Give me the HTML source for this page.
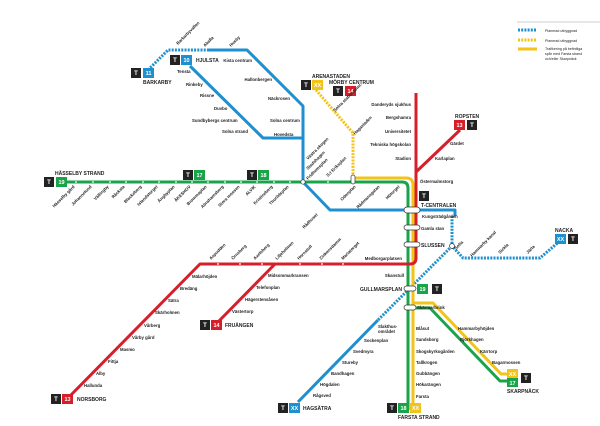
<!DOCTYPE html>
<html><head><meta charset="utf-8"><style>
html,body{margin:0;padding:0;background:#fff;}
svg{display:block;font-family:"Liberation Sans",sans-serif;}
text{font-size:4.3px;fill:#222;font-weight:bold;}
.b{font-size:5px;}
.r{text-anchor:end;}
.bt{fill:#fff;font-size:5.5px;text-anchor:middle;}
</style></head><body>
<svg width="600" height="426" viewBox="0 0 600 426" xmlns="http://www.w3.org/2000/svg">
<defs>
<g id="T"><rect x="-5" y="-5" width="10" height="10" fill="#222"/><text x="0" y="2" class="bt" style="font-size:6px">T</text></g>
</defs>
<g fill="none" stroke-linejoin="round" stroke-linecap="butt">
<path d="M148,70 L168,50 L207,50" stroke="#1e8fcf" stroke-width="3" stroke-dasharray="2,1.2"/>
<path d="M207,50 L247,50 L303,106 L303,182 L330,210 L455,210 L455,216" stroke="#1e8fcf" stroke-width="3"/>
<path d="M190,66 L263,138 L303,138" stroke="#1e8fcf" stroke-width="3"/>
<path d="M452,216 L452,246 L463,258 L540,258 L561,240" stroke="#1e8fcf" stroke-width="3" stroke-dasharray="2,1.2"/>
<path d="M452,246 L378,320" stroke="#1e8fcf" stroke-width="3" stroke-dasharray="2,1.2"/>
<path d="M378,320 L298,402" stroke="#1e8fcf" stroke-width="3"/>
<path d="M62,182 L402,182 Q408,182 408,188 L408,410" stroke="#1aa44a" stroke-width="3"/>
<path d="M408,308 L430,308 L500,381 L512,381" stroke="#1aa44a" stroke-width="3"/>
<path d="M316,90 L353,133 L353,178" stroke="#f2c318" stroke-width="3" stroke-dasharray="2,1.2"/>
<path d="M353,178 L406,178 Q413,178 413,185 L413,410" stroke="#f2c318" stroke-width="3"/>
<path d="M413,303 L433,303 L501,374 L512,374" stroke="#f2c318" stroke-width="3"/>
<path d="M416,93 L416,258 Q416,264 410,264 L200,264 L68,398" stroke="#d71f2b" stroke-width="3"/>
<path d="M275,264 L218,322" stroke="#d71f2b" stroke-width="3"/>
<path d="M460,130 L416,172" stroke="#d71f2b" stroke-width="3"/>
</g>
<g fill="#fff" stroke="#333" stroke-width="0.7">
<rect x="404" y="207" width="16" height="6" rx="3"/>
<rect x="404" y="225" width="16" height="5" rx="2.5"/>
<rect x="404" y="242" width="16" height="5" rx="2.5"/>
<rect x="404" y="286" width="12" height="5" rx="2.5"/>
<rect x="404" y="305" width="12" height="5" rx="2.5"/>
<rect x="351" y="175" width="4" height="9" rx="2"/>
<circle cx="303" cy="182" r="2.2"/>
<circle cx="452" cy="246" r="2.5"/>
</g>
<g fill="#fff">
<circle cx="76" cy="182" r="0.9"/><circle cx="93" cy="182" r="0.9"/><circle cx="110" cy="182" r="0.9"/><circle cx="126" cy="182" r="0.9"/><circle cx="143" cy="182" r="0.9"/><circle cx="159" cy="182" r="0.9"/><circle cx="176" cy="182" r="0.9"/><circle cx="192" cy="182" r="0.9"/><circle cx="208" cy="182" r="0.9"/><circle cx="225" cy="182" r="0.9"/><circle cx="241" cy="182" r="0.9"/><circle cx="257" cy="182" r="0.9"/><circle cx="274" cy="182" r="0.9"/><circle cx="290" cy="182" r="0.9"/><circle cx="328" cy="182" r="0.9"/>
<circle cx="218" cy="264" r="0.9"/><circle cx="240" cy="264" r="0.9"/><circle cx="262" cy="264" r="0.9"/><circle cx="300" cy="264" r="0.9"/><circle cx="322" cy="264" r="0.9"/><circle cx="343" cy="264" r="0.9"/>
</g>
<line x1="517" y1="22" x2="600" y2="22" stroke="#999" stroke-width="0.6"/>
<line x1="518" y1="30" x2="537" y2="30" stroke="#1e8fcf" stroke-width="3" stroke-dasharray="2,1.2"/>
<line x1="518" y1="40" x2="537" y2="40" stroke="#f2c318" stroke-width="3" stroke-dasharray="2,1.2"/>
<line x1="518" y1="49" x2="537" y2="49" stroke="#f2c318" stroke-width="3"/>
<g><text x="545" y="32" style="font-weight:normal;font-size:3.6px">Planerad utbyggnad</text>
<text x="545" y="42" style="font-weight:normal;font-size:3.6px">Planerad utbyggnad</text>
<text x="545" y="50" style="font-weight:normal;font-size:3.6px">Trafikering på befintliga</text>
<text x="545" y="55" style="font-weight:normal;font-size:3.6px">spår med Farsta strand</text>
<text x="545" y="60" style="font-weight:normal;font-size:3.6px">och/eller Skarpnäck</text></g>
<use href="#T" x="136" y="73"/><rect x="143" y="68" width="11" height="10" fill="#1e8fcf"/><text x="148.5" y="75" class="bt">11</text><text x="143" y="84" class="b">BARKARBY</text>
<use href="#T" x="175" y="60"/><rect x="181" y="55" width="11" height="10" fill="#1e8fcf"/><text x="186.5" y="62" class="bt">10</text><text x="196" y="62" class="b">HJULSTA</text>
<use href="#T" x="49" y="182"/><rect x="56" y="177" width="11" height="10" fill="#1aa44a"/><text x="61.5" y="184" class="bt">19</text><text x="55" y="175" class="b">HÄSSELBY STRAND</text>
<use href="#T" x="188" y="175"/><rect x="194" y="170" width="11" height="10" fill="#1aa44a"/><text x="199.5" y="177" class="bt">17</text>
<use href="#T" x="252" y="175"/><rect x="258" y="170" width="11" height="10" fill="#1aa44a"/><text x="263.5" y="177" class="bt">18</text>
<use href="#T" x="306" y="85"/><rect x="312" y="80" width="11" height="10" fill="#f2c318"/><text x="317.5" y="87" class="bt">XX</text><text x="312" y="78" class="b">ARENASTADEN</text>
<use href="#T" x="338" y="91"/><rect x="345" y="86" width="11" height="10" fill="#d71f2b"/><text x="350.5" y="93" class="bt">14</text><text x="329" y="84" class="b">MÖRBY CENTRUM</text>
<rect x="454" y="120" width="11" height="10" fill="#d71f2b"/><text x="459.5" y="127" class="bt">13</text><use href="#T" x="472" y="125"/><text x="455" y="118" class="b">ROPSTEN</text>
<use href="#T" x="424" y="196"/><text x="421" y="207" class="b">T-CENTRALEN</text>
<rect x="417" y="284" width="11" height="10" fill="#1aa44a"/><text x="422.5" y="291" class="bt">19</text><use href="#T" x="437" y="289"/><text x="402" y="291" class="b r">GULLMARSPLAN</text>
<use href="#T" x="392" y="408"/><rect x="398" y="403" width="11" height="10" fill="#1aa44a"/><text x="403.5" y="410" class="bt">18</text><rect x="410" y="403" width="11" height="10" fill="#f2c318"/><text x="415.5" y="410" class="bt">XX</text><text x="398" y="419" class="b">FARSTA STRAND</text>
<rect x="507" y="369" width="11" height="9" fill="#f2c318"/><text x="512.5" y="376" class="bt">XX</text><rect x="507" y="378" width="11" height="9" fill="#1aa44a"/><text x="512.5" y="385" class="bt">17</text><use href="#T" x="526" y="378"/><text x="507" y="393" class="b">SKARPNÄCK</text>
<rect x="555" y="234" width="11" height="10" fill="#1e8fcf"/><text x="560.5" y="241" class="bt">XX</text><use href="#T" x="573" y="239"/><text x="555" y="232" class="b">NACKA</text>
<use href="#T" x="283" y="408"/><rect x="289" y="403" width="11" height="10" fill="#1e8fcf"/><text x="294.5" y="410" class="bt">XX</text><text x="303" y="410" class="b">HAGSÄTRA</text>
<use href="#T" x="56" y="399"/><rect x="62" y="394" width="11" height="10" fill="#d71f2b"/><text x="67.5" y="401" class="bt">13</text><text x="77" y="401" class="b">NORSBORG</text>
<use href="#T" x="205" y="325"/><rect x="211" y="320" width="11" height="10" fill="#d71f2b"/><text x="216.5" y="327" class="bt">14</text><text x="225" y="327" class="b">FRUÄNGEN</text>
<text x="421" y="230">Gamla stan</text><text x="421" y="247" class="b">SLUSSEN</text>
<text x="252" y="62" class="r">Kista centrum</text><text x="272" y="81" class="r">Hallonbergen</text><text x="290" y="100" class="r">Näckrosen</text><text x="270" y="122">Solna centrum</text><text x="274" y="136">Hovedsta</text>
<text x="177" y="73">Tensta</text><text x="186" y="86">Rinkeby</text><text x="200" y="97">Rissne</text><text x="214" y="110">Duvbo</text><text x="192" y="122">Sundbybergs centrum</text><text x="222" y="133">Solna strand</text>
<text x="422" y="218">Kungsträdgården</text>
<text x="411" y="106" class="r">Danderyds sjukhus</text><text x="411" y="119" class="r">Bergshamra</text><text x="411" y="133" class="r">Universitetet</text><text x="411" y="146" class="r">Tekniska högskolan</text><text x="411" y="160" class="r">Stadion</text><text x="420" y="183">Östermalmstorg</text>
<text x="450" y="145">Gärdet</text><text x="435" y="160">Karlaplan</text>
<text x="402" y="260" class="r">Medborgarplatsen</text><text x="404" y="277" class="r">Skanstull</text>
<text x="192" y="278">Mälarhöjden</text><text x="180" y="290">Bredäng</text><text x="168" y="302">Sätra</text><text x="155" y="314">Skärholmen</text><text x="144" y="327">Vårberg</text><text x="132" y="339">Vårby gård</text><text x="120" y="351">Masmo</text><text x="108" y="363">Fittja</text><text x="96" y="375">Alby</text><text x="84" y="387">Hallunda</text>
<text x="268" y="277">Midsommarkransen</text><text x="256" y="289">Telefonplan</text><text x="245" y="301">Hägerstensåsen</text><text x="232" y="313">Västertorp</text>
<text x="417" y="309">Skärmarbrink</text><text x="416" y="330">Blåsut</text><text x="416" y="341">Sandsborg</text><text x="416" y="353">Skogskyrkogården</text><text x="416" y="364">Tallkrogen</text><text x="416" y="375">Gubbängen</text><text x="416" y="386">Hökarängen</text><text x="416" y="398">Farsta</text>
<text x="458" y="330">Hammarbyhöjden</text><text x="460" y="341">Björkhagen</text><text x="480" y="353">Kärrtorp</text><text x="492" y="364">Bagarmossen</text>
<text x="378" y="328">Slakthus-</text><text x="378" y="333">området</text><text x="364" y="342">Sockenplan</text><text x="353" y="353">Svedmyra</text><text x="342" y="364">Stureby</text><text x="331" y="375">Bandhagen</text><text x="320" y="386">Högdalen</text><text x="313" y="397">Rågsved</text>
<g>
<text transform="translate(75,187) rotate(-45)" class="r">Hässelby gård</text>
<text transform="translate(92,187) rotate(-45)" class="r">Johannelund</text>
<text transform="translate(109,187) rotate(-45)" class="r">Vällingby</text>
<text transform="translate(125,187) rotate(-45)" class="r">Råcksta</text>
<text transform="translate(142,187) rotate(-45)" class="r">Blackeberg</text>
<text transform="translate(158,187) rotate(-45)" class="r">Islandstorget</text>
<text transform="translate(175,187) rotate(-45)" class="r">Ängbyplan</text>
<text transform="translate(191,187) rotate(-45)" class="r">ÅKESHOV</text>
<text transform="translate(207,187) rotate(-45)" class="r">Brommaplan</text>
<text transform="translate(224,187) rotate(-45)" class="r">Abrahamsberg</text>
<text transform="translate(240,187) rotate(-45)" class="r">Stora mossen</text>
<text transform="translate(256,187) rotate(-45)" class="r">ALVIK</text>
<text transform="translate(273,187) rotate(-45)" class="r">Kristineberg</text>
<text transform="translate(289,187) rotate(-45)" class="r">Thorildsplan</text>
<text transform="translate(318,215) rotate(-45)" class="r">Rådhuset</text>
<text transform="translate(356,187) rotate(-45)" class="r">Odenplan</text>
<text transform="translate(380,187) rotate(-45)" class="r">Rådmansgatan</text>
<text transform="translate(400,187) rotate(-45)" class="r">Hötorget</text>
<text transform="translate(308,160) rotate(-45)">Västra skogen</text>
<text transform="translate(308,170) rotate(-45)">Stadshagen</text>
<text transform="translate(308,180) rotate(-45)">Fridhemsplan</text>
<text transform="translate(328,177) rotate(-45)">S:t Eriksplan</text>
<text transform="translate(335,112) rotate(-45)">Solna stationsomr.</text>
<text transform="translate(355,135) rotate(-45)">Hagastaden</text>
<text transform="translate(178,45) rotate(-45)">Barkarbyvallen</text>
<text transform="translate(205,47) rotate(-45)">Akalla</text>
<text transform="translate(231,47) rotate(-45)">Husby</text>
<text transform="translate(211,260) rotate(-45)">Aspudden</text>
<text transform="translate(233,260) rotate(-45)">Örnsberg</text>
<text transform="translate(255,260) rotate(-45)">Axelsberg</text>
<text transform="translate(277,260) rotate(-45)">Liljeholmen</text>
<text transform="translate(299,260) rotate(-45)">Hornstull</text>
<text transform="translate(321,260) rotate(-45)">Zinkensdamm</text>
<text transform="translate(343,260) rotate(-45)">Mariatorget</text>
<text transform="translate(456,250) rotate(-45)">Sofia</text>
<text transform="translate(472,257) rotate(-45)">Hammarby kanal</text>
<text transform="translate(500,254) rotate(-45)">Sickla</text>
<text transform="translate(528,254) rotate(-45)">Järla</text>
</g>
</svg>
</body></html>
